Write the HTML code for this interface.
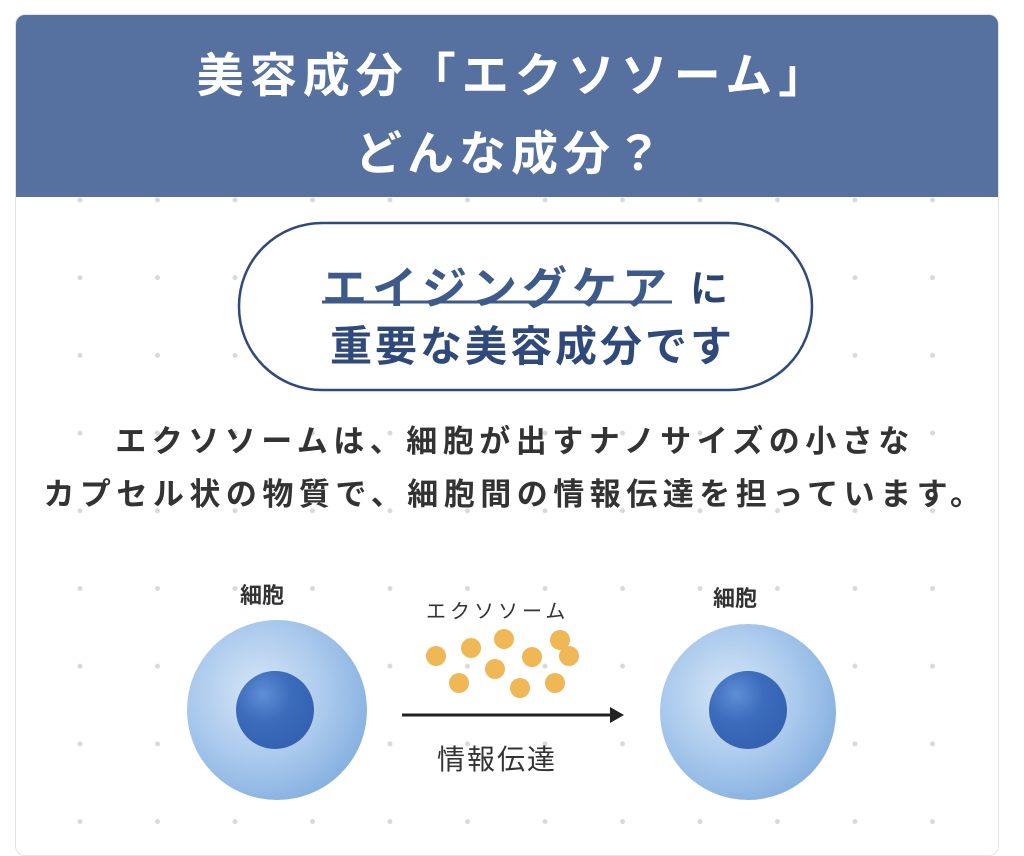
<!DOCTYPE html>
<html><head><meta charset="utf-8"><style>
body{margin:0;width:1024px;height:829px;background:#fff;overflow:hidden;font-family:"Liberation Sans","Noto Sans CJK JP",sans-serif;position:relative}
.card{position:absolute;left:15px;top:14px;width:982px;height:840px;border-radius:10px;border:1px solid #e4e4e4;background:#fff;overflow:hidden}
.hdr{position:absolute;left:0;top:0;width:100%;height:182px;background:#56719f;color:#fff;text-align:center;font-size:47px;font-weight:bold;line-height:78px;padding-top:22px;box-sizing:border-box;letter-spacing:6px}
.t{position:absolute;left:0;width:1024px;text-align:center;white-space:nowrap}
</style></head><body>
<div class="card"><div class="hdr"><div style="margin-left:14px">美容成分「エクソソーム」</div><div style="margin-left:8px;letter-spacing:5px">どんな成分？</div></div></div>
<svg width="1024" height="829" style="position:absolute;left:0;top:0">
<defs>
<pattern id="d" x="42" y="161" width="77.5" height="77.7" patternUnits="userSpaceOnUse"><circle cx="38" cy="39" r="2.5" fill="#d9d9d9"/></pattern>
<radialGradient id="c" cx="0.4" cy="0.4" r="0.65"><stop offset="0" stop-color="#d6e6f6"/><stop offset="0.6" stop-color="#a8c8ec"/><stop offset="1" stop-color="#86b0e0"/></radialGradient>
<radialGradient id="n" cx="0.35" cy="0.3" r="0.7"><stop offset="0" stop-color="#5f8fd6"/><stop offset="0.5" stop-color="#3c6cbc"/><stop offset="1" stop-color="#3562b2"/></radialGradient>
</defs>
<rect x="16" y="197" width="980" height="632" fill="url(#d)"/>
<rect x="239" y="223" width="573" height="167" rx="83" fill="#fff" stroke="#2f4a7a" stroke-width="2.5"/>
<line x1="322" y1="302" x2="672" y2="302" stroke="#3d5a8a" stroke-width="3"/>
<circle cx="277" cy="710" r="90" fill="url(#c)"/>
<circle cx="275" cy="710" r="39" fill="url(#n)"/>
<circle cx="748" cy="712" r="88" fill="url(#c)"/>
<circle cx="748" cy="710" r="39" fill="url(#n)"/>
<g fill="#f0b757">
<circle cx="436" cy="656" r="10"/><circle cx="471" cy="648" r="10"/><circle cx="504" cy="639" r="10"/><circle cx="532" cy="657" r="10"/><circle cx="560" cy="640" r="10"/><circle cx="569" cy="656" r="10"/><circle cx="495" cy="669" r="10"/><circle cx="459" cy="683" r="10"/><circle cx="520" cy="688" r="10"/><circle cx="555" cy="683" r="10"/>
</g>
<line x1="402" y1="715" x2="612" y2="715" stroke="#222" stroke-width="3"/>
<polygon points="610,707 624,715 610,723" fill="#222"/>
</svg>
<div style="position:absolute;left:322px;top:252px;font-size:45px;font-weight:bold;color:#3d5a8a;letter-spacing:5px;white-space:nowrap">エイジングケア</div>
<div style="position:absolute;left:690px;top:258px;font-size:38px;font-weight:bold;color:#2c4470">に</div>
<div style="position:absolute;left:330px;top:313px;font-size:42px;font-weight:bold;color:#2f4a7a;letter-spacing:3px;white-space:nowrap">重要な美容成分です</div>
<div class="t" style="top:416px;font-size:31px;font-weight:bold;color:#333;left:3px;letter-spacing:5.5px">エクソソームは、細胞が出すナノサイズの小さな</div>
<div class="t" style="top:469px;font-size:31px;font-weight:bold;color:#333;left:3px;letter-spacing:5.5px">カプセル状の物質で、細胞間の情報伝達を担っています。</div>
<div style="position:absolute;left:240px;top:578px;font-size:22px;font-weight:bold;color:#333">細胞</div>
<div style="position:absolute;left:713px;top:581px;font-size:22px;font-weight:bold;color:#333">細胞</div>
<div style="position:absolute;left:426px;top:595px;font-size:20px;color:#333;letter-spacing:4px">エクソソーム</div>
<div style="position:absolute;left:437px;top:738px;font-size:28px;color:#333;letter-spacing:2px">情報伝達</div>
</body></html>
